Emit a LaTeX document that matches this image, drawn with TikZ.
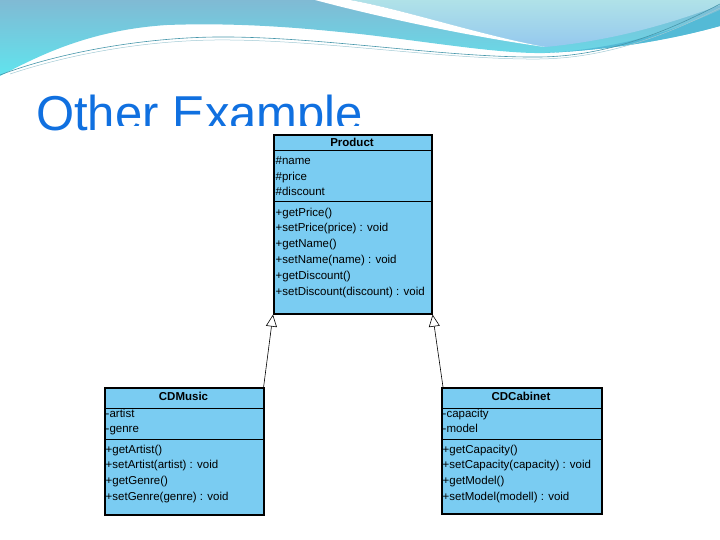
\documentclass[tikz,border=0pt]{standalone}
\usepackage{fontspec}
\setmainfont{Liberation Sans}
\usepackage{xcolor}
\usepackage{tikz}
\usetikzlibrary{positioning,arrows.meta}
\definecolor{classblue}{RGB}{122,204,242}
\definecolor{titleblue}{RGB}{16,112,224}
\definecolor{wavesteel}{RGB}{128,186,212}
\definecolor{wavecyan}{RGB}{96,228,238}
\definecolor{wavelight}{RGB}{176,226,232}
\definecolor{wavelilac}{RGB}{148,200,238}
\definecolor{waveteal}{RGB}{84,186,214}
\definecolor{waveline}{RGB}{70,150,170}

\begin{document}
\begin{tikzpicture}[x=1pt, y=-1pt, every node/.style={font=\fontsize{11.5}{15.8}\selectfont}]
  \tikzstyle{classbox}=[rectangle, draw=black, line width=1.6pt, fill=classblue, anchor=north west, inner sep=0pt]
  \tikzstyle{classname}=[anchor=base, inner sep=0pt, font=\bfseries\fontsize{11.5}{14}\selectfont]
  % base of a multi-line node = baseline of its last line
  \tikzstyle{members}=[anchor=base west, align=left, inner sep=0pt]
  \tikzstyle{divider}=[line width=1pt]
  \tikzstyle{inherits}=[-{Triangle[open, length=12pt, width=11pt]}, line width=0.6pt]

  \useasboundingbox (0,0) rectangle (720,540);
  % slide header
  \shade[top color=wavesteel, bottom color=wavecyan] (0,0) -- (720,0) -- (720,26)
    .. controls (670,40) and (610,50) .. (545,53)
    .. controls (500,54) and (430,42) .. (360,34)
    .. controls (320,30) and (250,22) .. (167,25)
    .. controls (90,30) and (40,55) .. (0,76) -- cycle;
  \fill[waveteal] (560,52) .. controls (630,46) and (680,28) .. (720,10) -- (720,26)
    .. controls (670,40) and (610,50) .. (545,53) -- cycle;
  \shade[top color=wavelight, bottom color=wavelilac] (350,0) -- (720,0) -- (720,5)
    .. controls (680,20) and (620,40) .. (545,47)
    .. controls (480,35) and (405,10) .. (350,0) -- cycle;
  \fill[white] (315,0) -- (350,0) .. controls (405,10) and (480,35) .. (545,47)
    .. controls (480,38) and (390,20) .. (315,0) -- cycle;
  \draw[waveline, line width=0.6pt] (0,75) .. controls (60,52) and (150,36) .. (230,37)
    .. controls (330,38) and (450,58) .. (540,57) .. controls (610,56) and (670,30) .. (720,4);
  \draw[waveline!50, line width=0.5pt] (10,74) .. controls (70,54) and (150,39) .. (230,40)
    .. controls (330,41) and (450,60) .. (540,59) .. controls (610,58) and (670,33) .. (720,8);

  % title, partly covered by the picture
  \node[anchor=base west, inner sep=0pt, text=titleblue, font=\fontsize{49}{56}\selectfont] (title) at (36,131) {Other Example};
  \fill[white] (100,126) rectangle (604,540);

  % Product
  \node[classbox, minimum width=158, minimum height=179] (product) at (273,134) {};
  \node[classname] (productname) at (352,147) {Product};
  \draw[divider] ([yshift=-17pt]product.north west) -- ([yshift=-17pt]product.north east);
  \draw[divider] ([yshift=-68pt]product.north west) -- ([yshift=-68pt]product.north east);
  \node[members] (productattrs) at (275.5,196) {\#name\\\#price\\\#discount};
  \node[members] (productops) at (275.5,295) {+getPrice()\\+setPrice(price) : void\\+getName()\\+setName(name) : void\\+getDiscount()\\+setDiscount(discount) : void};

  % CDMusic
  \node[classbox, minimum width=159, minimum height=127] (cdmusic) at (104,387) {};
  \node[classname] (cdmusicname) at (183.5,400.5) {CDMusic};
  \draw[divider] ([yshift=-21pt]cdmusic.north west) -- ([yshift=-21pt]cdmusic.north east);
  \draw[divider] ([yshift=-52pt]cdmusic.north west) -- ([yshift=-52pt]cdmusic.north east);
  \node[members] (cdmusicattrs) at (105.5,432.8) {-artist\\-genre};
  \node[members] (cdmusicops) at (105.5,500.4) {+getArtist()\\+setArtist(artist) : void\\+getGenre()\\+setGenre(genre) : void};

  % CDCabinet
  \node[classbox, minimum width=160, minimum height=126] (cdcabinet) at (441,387) {};
  \node[classname] (cdcabinetname) at (521,400.5) {CDCabinet};
  \draw[divider] ([yshift=-21pt]cdcabinet.north west) -- ([yshift=-21pt]cdcabinet.north east);
  \draw[divider] ([yshift=-52pt]cdcabinet.north west) -- ([yshift=-52pt]cdcabinet.north east);
  \node[members] (cdcabinetattrs) at (442.5,432.8) {-capacity\\-model};
  \node[members] (cdcabinetops) at (442.5,500.4) {+getCapacity()\\+setCapacity(capacity) : void\\+getModel()\\+setModel(modell) : void};

  % generalisation
  \draw[inherits] ([xshift=-1pt]cdmusic.north east) -- (product.south west);
  \draw[inherits] ([xshift=2pt]cdcabinet.north west) -- (product.south east);
\end{tikzpicture}
\end{document}
